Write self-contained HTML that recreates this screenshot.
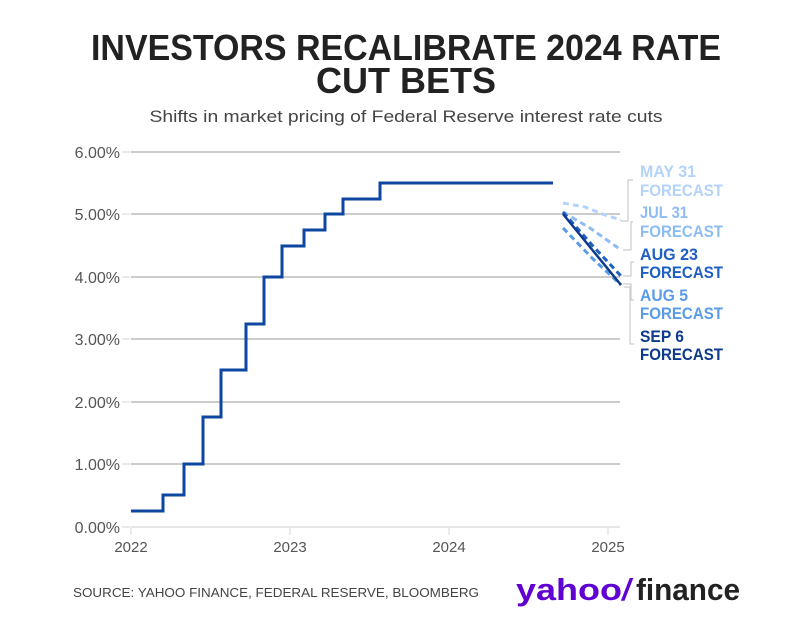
<!DOCTYPE html>
<html><head><meta charset="utf-8"><style>
body{margin:0;background:#fff;width:808px;height:621px;overflow:hidden;font-family:"Liberation Sans",sans-serif}
</style></head><body>
<svg width="808" height="621" xmlns="http://www.w3.org/2000/svg" font-family="Liberation Sans, sans-serif">
<text x="406" y="60" text-anchor="middle" font-size="36" font-weight="bold" fill="#222" textLength="630" lengthAdjust="spacingAndGlyphs">INVESTORS RECALIBRATE 2024 RATE</text>
<text x="406" y="93" text-anchor="middle" font-size="36" font-weight="bold" fill="#222" textLength="180" lengthAdjust="spacingAndGlyphs">CUT BETS</text>
<text x="406" y="122" text-anchor="middle" font-size="17" fill="#444" textLength="513" lengthAdjust="spacingAndGlyphs">Shifts in market pricing of Federal Reserve interest rate cuts</text>
<g stroke="#bbb" stroke-width="1.5">
<line x1="131" x2="620" y1="152" y2="152"/><line x1="131" x2="620" y1="214" y2="214"/>
<line x1="131" x2="620" y1="277" y2="277"/><line x1="131" x2="620" y1="339" y2="339"/>
<line x1="131" x2="620" y1="402" y2="402"/><line x1="131" x2="620" y1="464" y2="464"/>
</g>
<line x1="131" x2="620" y1="527" y2="527" stroke="#ddd" stroke-width="1.5"/>
<g stroke="#e3e3e3" stroke-width="1.5"><line x1="122" x2="130" y1="152" y2="152"/><line x1="122" x2="130" y1="214" y2="214"/><line x1="122" x2="130" y1="277" y2="277"/><line x1="122" x2="130" y1="339" y2="339"/><line x1="122" x2="130" y1="402" y2="402"/><line x1="122" x2="130" y1="464" y2="464"/><line x1="122" x2="130" y1="527" y2="527"/>
<line x1="131" x2="131" y1="527" y2="535"/><line x1="290" x2="290" y1="527" y2="535"/><line x1="449" x2="449" y1="527" y2="535"/><line x1="608" x2="608" y1="527" y2="535"/></g>
<g font-size="16" fill="#555" text-anchor="end">
<text x="120" y="158">6.00%</text><text x="120" y="220">5.00%</text><text x="120" y="283">4.00%</text><text x="120" y="345">3.00%</text><text x="120" y="408">2.00%</text><text x="120" y="470">1.00%</text><text x="120" y="533">0.00%</text>
</g>
<g font-size="15" fill="#555" text-anchor="middle">
<text x="131" y="552">2022</text><text x="290" y="552">2023</text><text x="449" y="552">2024</text><text x="608" y="552">2025</text>
</g>
<polyline fill="none" stroke="#0d47a1" stroke-width="3" points="131,511 163,511 163,495 184,495 184,464 203,464 203,417 221,417 221,370 246,370 246,324 264,324 264,277 282,277 282,246 304,246 304,230 325,230 325,214 343,214 343,199 380,199 380,183 553,183"/>
<g fill="none" stroke-width="3" stroke-dasharray="6,4">
<polyline stroke="#b3d3fb" points="563,203 585,207 605,215 621,220"/>
<polyline stroke="#8dbcf3" points="563,212 590,228 621,250"/>
<polyline stroke="#5a9be8" points="563,228 592,258 621,285"/>
<polyline stroke="#1e5fc4" points="563,212 592,245 621,276"/>
</g>
<line x1="563" y1="214" x2="621" y2="285" stroke="#0d3a8a" stroke-width="2.5"/>
<g fill="none" stroke="#ccc" stroke-width="1.2">
<polyline points="633,180 628,180 628,221 621,221"/>
<polyline points="633,222 631,222 631,250 623,250"/>
<polyline points="634,262 631,262 631,276 623,276"/>
<polyline points="634,300 631,300 631,284 623,284"/>
<polyline points="634,344 630,344 630,287 624,287"/>
</g>
<g font-size="17" font-weight="bold">
<text x="640" y="177" fill="#b3d3fb" textLength="56" lengthAdjust="spacingAndGlyphs">MAY 31</text>
<text x="640" y="196" fill="#b3d3fb" textLength="83" lengthAdjust="spacingAndGlyphs">FORECAST</text>
<text x="640" y="218" fill="#8dbcf3" textLength="48" lengthAdjust="spacingAndGlyphs">JUL 31</text>
<text x="640" y="237" fill="#8dbcf3" textLength="83" lengthAdjust="spacingAndGlyphs">FORECAST</text>
<text x="640" y="260" fill="#1e5fc4" textLength="58" lengthAdjust="spacingAndGlyphs">AUG 23</text>
<text x="640" y="278" fill="#1e5fc4" textLength="83" lengthAdjust="spacingAndGlyphs">FORECAST</text>
<text x="640" y="301" fill="#5a9be8" textLength="48" lengthAdjust="spacingAndGlyphs">AUG 5</text>
<text x="640" y="319" fill="#5a9be8" textLength="83" lengthAdjust="spacingAndGlyphs">FORECAST</text>
<text x="640" y="342" fill="#0d3a8a" textLength="44" lengthAdjust="spacingAndGlyphs">SEP 6</text>
<text x="640" y="360" fill="#0d3a8a" textLength="83" lengthAdjust="spacingAndGlyphs">FORECAST</text>
</g>
<text x="73" y="597" font-size="13" fill="#444" textLength="406" lengthAdjust="spacingAndGlyphs">SOURCE: YAHOO FINANCE, FEDERAL RESERVE, BLOOMBERG</text>
<text x="516" y="600" font-size="31" font-weight="bold" fill="#6001d2" textLength="106" lengthAdjust="spacingAndGlyphs">yahoo</text>
<text x="622" y="600" font-size="31" font-weight="bold" fill="#6001d2" font-style="italic">/</text>
<text x="636" y="600" font-size="31" font-weight="bold" fill="#222" textLength="104" lengthAdjust="spacingAndGlyphs">finance</text>
</svg>
</body></html>
